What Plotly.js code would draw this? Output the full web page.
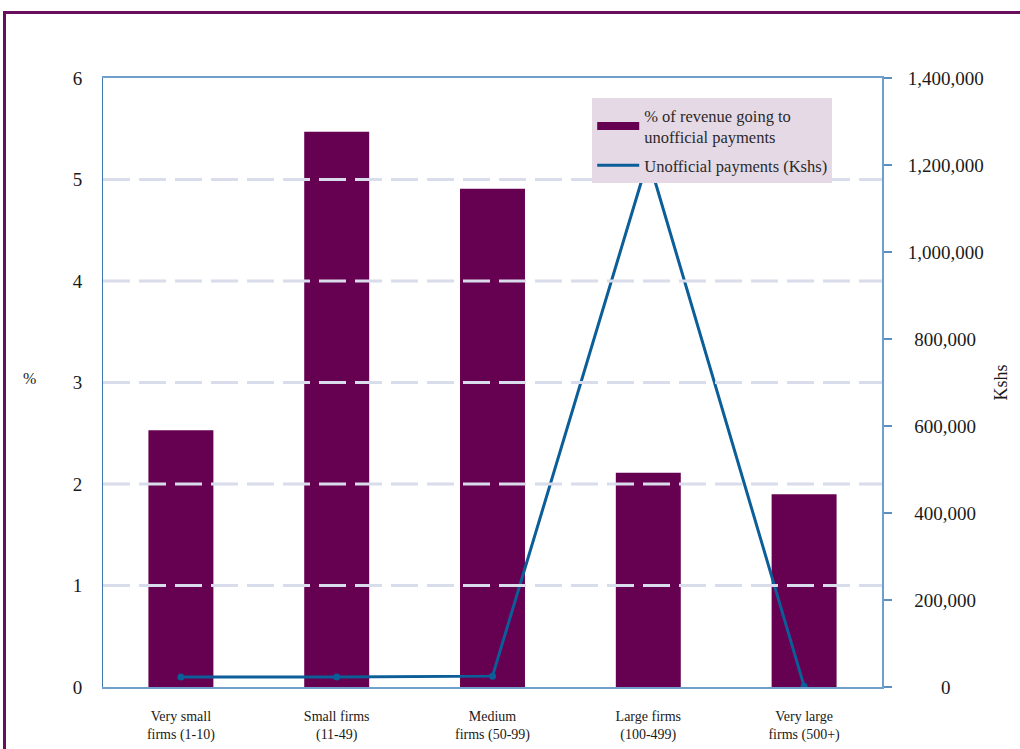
<!DOCTYPE html>
<html>
<head>
<meta charset="utf-8">
<script src="https://cdn.plot.ly/plotly-3.0.1.min.js"></script>
<style>
  html, body { margin: 0; padding: 0; background: #ffffff; overflow: hidden; }
  #chart { width: 1020px; height: 749px; }
  #frame { position: absolute; left: 3px; top: 11px; width: 1200px; height: 900px;
           border-left: 3px solid #6a0d5c; border-top: 3px solid #6a0d5c; pointer-events: none; }
</style>
</head>
<body>
<div id="chart"></div>
<div id="frame"></div>
<script>
// ---- data ----
const categories = ['Very small<br>firms (1-10)', 'Small firms<br>(11-49)', 'Medium<br>firms (50-99)', 'Large firms<br>(100-499)', 'Very large<br>firms (500+)'];
const revenueShare = [2.53, 5.47, 4.91, 2.11, 1.90];           // % of revenue going to unofficial payments
const paymentsKshs = [23000, 23000, 25000, 1215000, 2000];     // unofficial payments (Kshs)
const leftTicks = [0, 1, 2, 3, 4, 5, 6];
const rightTicks = [0, 200000, 400000, 600000, 800000, 1000000, 1200000, 1400000];
const rightTickLabels = ['0', '200,000', '400,000', '600,000', '800,000', '1,000,000', '1,200,000', '1,400,000'];
const gridValues = [1, 2, 3, 4, 5];
const seriesNames = ['% of revenue going to<br>unofficial payments', 'Unofficial payments (Kshs)'];

const purple = '#660050';
const blue = '#0b5e97';
const serif = 'Liberation Serif, DejaVu Serif, serif';

// centre the right-hand labels on the widest one (the original centres them)
function centred(label) {
  const digits = (label.match(/\d/g) || []).length;
  const commas = (label.match(/,/g) || []).length;
  let em = ((7 - digits) * 0.5 + (2 - commas) * 0.25) / 2;
  let pad = '';
  while (em >= 0.5) { pad += '\u2007'; em -= 0.5; }      // figure space
  while (em >= 0.25) { pad += '\u2008'; em -= 0.25; }    // punctuation space
  if (em >= 0.1) { pad += '\u200A'; }                    // hair space
  return pad + label;
}

const traces = [
  {
    type: 'bar', x: categories, y: revenueShare, yaxis: 'y',
    marker: { color: purple }, showlegend: false, hoverinfo: 'y'
  },
  { // legend entry for the bars, drawn as a thick bar-coloured stroke
    type: 'scatter', mode: 'lines', x: [null], y: [null], yaxis: 'y',
    name: seriesNames[0], legendgroup: 'a', line: { color: purple, width: 8 }
  },
  { // legend entry for the line (stroke only)
    type: 'scatter', mode: 'lines', x: [null], y: [null], yaxis: 'y2',
    name: seriesNames[1], legendgroup: 'b', line: { color: blue, width: 3 }
  },
  {
    type: 'scatter', mode: 'lines+markers', x: categories, y: paymentsKshs, yaxis: 'y2',
    name: seriesNames[1], showlegend: false, line: { color: blue, width: 3 },
    marker: { color: blue, size: 7 }
  }
];

const gridShapes = gridValues.map(v => ({
  type: 'line', xref: 'paper', x0: 0, x1: 1, yref: 'y', y0: v, y1: v,
  layer: 'above', line: { color: '#d9dcea', width: 3, dash: '27px,9px' }
}));

const layout = {
  width: 1020, height: 749,
  margin: { l: 103, r: 138, t: 78, b: 62 },
  paper_bgcolor: '#ffffff', plot_bgcolor: '#ffffff',
  font: { family: serif, color: '#1a1a1a', size: 14 },
  bargap: 0.583,
  showlegend: true,
  legend: {
    x: 0.628, y: 0.967, xanchor: 'left', yanchor: 'top',
    bgcolor: '#e6d9e6', borderwidth: 0,
    font: { family: serif, size: 16.5, color: '#2a2a2a' },
    itemwidth: 42, tracegroupgap: 4, traceorder: 'grouped',
    entrywidth: 260, entrywidthmode: 'pixels'
  },
  xaxis: {
    type: 'category', showgrid: false, zeroline: false,
    showline: true, linecolor: '#6f9fca', linewidth: 2, mirror: true,
    ticks: '', tickfont: { family: serif, size: 14, color: '#1a1a1a' },
    ticklabelstandoff: 15, fixedrange: true
  },
  yaxis: {
    range: [0, 6], tickvals: leftTicks, showgrid: false, zeroline: false,
    showline: true, linecolor: '#3f78b0', linewidth: 1,
    ticks: '', tickfont: { family: serif, size: 19, color: '#1a1a1a' },
    ticklabelstandoff: 16, fixedrange: true
  },
  yaxis2: {
    overlaying: 'y', side: 'right', range: [0, 1400000],
    tickvals: rightTicks, ticktext: rightTickLabels.map(centred),
    showgrid: false, zeroline: false,
    showline: true, linecolor: '#6f9fca', linewidth: 2,
    ticks: 'outside', ticklen: 8, tickcolor: '#5b8fc0', tickwidth: 1.5,
    tickfont: { family: serif, size: 19, color: '#1a1a1a' },
    ticklabelstandoff: 12,
    title: { text: 'Kshs', font: { family: serif, size: 18, color: '#1a1a1a' }, standoff: 12 },
    fixedrange: true
  },
  shapes: gridShapes,
  annotations: [{
    text: '%', xref: 'paper', yref: 'paper', x: -0.105, y: 0.507,
    showarrow: false, font: { family: serif, size: 16, color: '#1a1a1a' }
  }]
};

Plotly.newPlot('chart', traces, layout, { displayModeBar: false, staticPlot: true });
</script>
</body>
</html>
